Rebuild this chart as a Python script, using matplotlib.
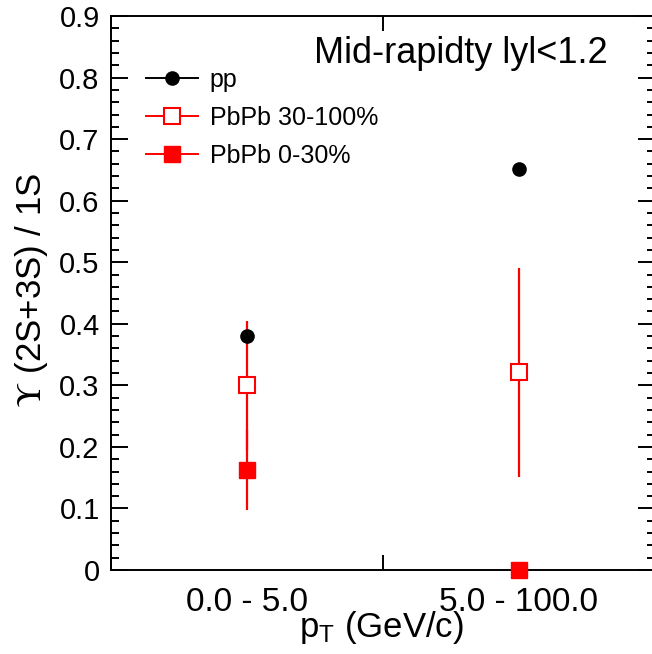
import numpy as np
import matplotlib
matplotlib.use("Agg")
import matplotlib.pyplot as plt
from matplotlib.lines import Line2D
from matplotlib.ticker import MultipleLocator, FixedLocator, FuncFormatter

plt.rcParams['font.family'] = ['Liberation Sans', 'DejaVu Sans']
plt.rcParams['mathtext.fontset'] = 'custom'
plt.rcParams['mathtext.rm'] = 'Liberation Sans'
plt.rcParams['mathtext.it'] = 'Liberation Sans:italic'

## Data
bins = ["0.0 - 5.0", "5.0 - 100.0"]
pp_vals = [0.380, 0.652]
pp_errs = [0.004, 0.010]
peri_vals = [0.300, 0.321]          # PbPb 30-100%
peri_errs = [0.105, 0.170]
cent_vals = [0.163, 0.0]            # PbPb 0-30%
cent_errs = [0.065, 0.0]

x = np.arange(len(bins)) + 0.5

fig = plt.figure(figsize=(6.52, 6.54), dpi=100)
ax = fig.add_axes([0.170, 0.1284, 0.8346, 0.8471])

red = '#ff0000'
ax.errorbar(x, peri_vals, yerr=peri_errs, fmt='s', ms=11, mfc='white', mec=red,
            mew=1.5, ecolor=red, elinewidth=1.6, capsize=0, clip_on=False, zorder=3)
ax.errorbar(x, cent_vals, yerr=cent_errs, fmt='s', ms=11.5, mfc=red, mec=red,
            ecolor=red, elinewidth=1.6, capsize=0, clip_on=False, zorder=3)
ax.errorbar(x, pp_vals, yerr=pp_errs, fmt='o', ms=9.5, color='black',
            elinewidth=1.6, capsize=0, clip_on=False, zorder=4)

ax.set_xlim(0, 2)
ax.set_ylim(0, 0.9)

# y axis ticks on both sides, inward
ax.yaxis.set_major_locator(MultipleLocator(0.1))
ax.yaxis.set_minor_locator(MultipleLocator(0.02))
ax.yaxis.set_major_formatter(FuncFormatter(lambda v, p: '0' if abs(v) < 1e-9 else f'{v:.1f}'))

# x axis: bin edges as major ticks, bin labels at centres
ax.xaxis.set_major_locator(FixedLocator([0, 1, 2]))
ax.xaxis.set_major_formatter(FuncFormatter(lambda v, p: ''))
ax.set_xticks(x, bins, minor=True)

ax.tick_params(axis='y', which='both', direction='in', left=True, right=True,
               labelsize=21, pad=8, width=1.4)
ax.tick_params(axis='y', which='major', length=12)
ax.tick_params(axis='y', which='minor', length=6)
ax.tick_params(axis='x', which='major', direction='in', top=True, bottom=True,
               length=11, width=1.4, labelbottom=False)
ax.tick_params(axis='x', which='minor', length=0, labelsize=24, pad=12)

for s in ax.spines.values():
    s.set_linewidth(1.4)

fig.text(31 / 652, 1 - 290 / 654, r'$\Upsilon$ (2S+3S) / 1S', rotation=90,
         ha='center', va='center', fontsize=25, math_fontfamily='stix')
fig.text(381 / 652, 1 - 628 / 654, r'p$_{\mathrm{T}}$ (GeV/c)',
         ha='center', va='center', fontsize=25)
fig.text(608 / 652, 1 - 63 / 654, 'Mid-rapidty lyl<1.2', ha='right',
         va='baseline', fontsize=26)

handles = [
    Line2D([], [], color='black', marker='o', ms=9.5, lw=1.4),
    Line2D([], [], color=red, marker='s', ms=11, mfc='white', mec=red, mew=1.5, lw=1.4),
    Line2D([], [], color=red, marker='s', ms=11.5, mfc=red, mec=red, lw=1.4),
]
labels = ['pp', 'PbPb 30-100%', 'PbPb 0-30%']
ax.legend(handles, labels, loc='upper left', bbox_to_anchor=(0.046, 0.925),
          frameon=False, fontsize=18, handlelength=2.1, handletextpad=0.45,
          labelspacing=0.56, borderaxespad=0)

fig.savefig('out.png', dpi=100)
